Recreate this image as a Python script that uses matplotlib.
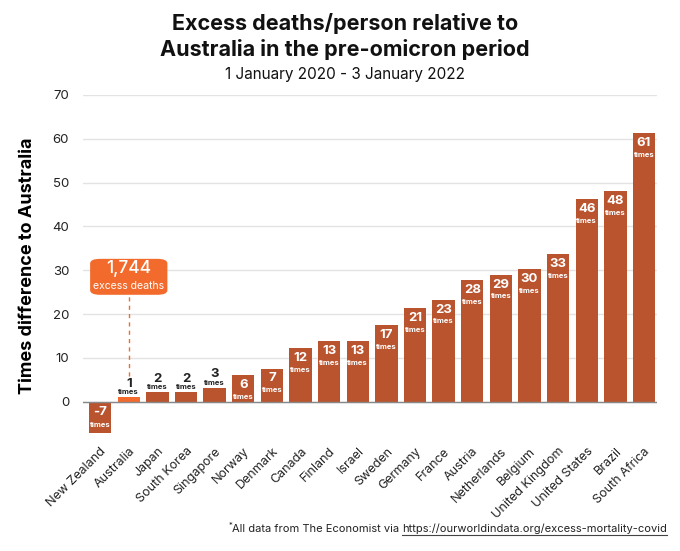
import matplotlib.pyplot as plt
from matplotlib.patches import FancyBboxPatch
import numpy as np

countries = ['New Zealand', 'Australia', 'Japan', 'South Korea', 'Singapore', 'Norway',
             'Denmark', 'Canada', 'Finland', 'Israel', 'Sweden', 'Germany', 'France',
             'Austria', 'Netherlands', 'Belgium', 'United Kingdom', 'United States',
             'Brazil', 'South Africa']
ratio = [-7.1, 1.1, 2.2, 2.2, 3.2, 6.2, 7.6, 12.3, 13.9, 13.9, 17.6, 21.3, 23.3,
         27.8, 29.0, 30.2, 33.6, 46.2, 48.1, 61.3]
labels = ['-7', '1', '2', '2', '3', '6', '7', '12', '13', '13', '17', '21', '23',
          '28', '29', '30', '33', '46', '48', '61']
aus_deaths = '1,744'

plt.rcParams['font.family'] = ['Inter', 'DejaVu Sans']

BAR = '#b9542f'
ORANGE = '#f26b2c'

fig = plt.figure(figsize=(6.8, 5.51), dpi=100)
ax = fig.add_axes([0.122, 0.207, 0.844, 0.621])

x = np.arange(len(countries))
colors = [ORANGE if c == 'Australia' else BAR for c in countries]
ax.bar(x, ratio, width=0.78, color=colors, zorder=3)

ax.set_ylim(-8, 70)
ax.set_xlim(-0.6, len(countries) - 0.55)
ax.set_yticks(range(0, 71, 10))
ax.yaxis.grid(True, color='#e3e3e3', linewidth=1, zorder=0)
ax.axhline(0, color='#888888', linewidth=1, zorder=4)
for s in ax.spines.values():
    s.set_visible(False)
ax.tick_params(axis='both', length=0, labelsize=9.5, colors='#222222')
ax.tick_params(axis='y', pad=10)
ax.set_xticks(x)
ax.set_xticklabels(countries, rotation=45, ha='right', va='top',
                   rotation_mode='anchor', fontsize=9)
ax.tick_params(axis='x', pad=6)
ax.set_ylabel('Times difference to Australia', fontsize=13, fontweight='bold',
              labelpad=12)

# value labels
for xi, v, lab in zip(x, ratio, labels):
    if v < 0:
        ax.text(xi, -1.0, lab, ha='center', va='top', color='white',
                fontsize=9.5, fontweight='bold', zorder=5)
        ax.text(xi, -4.6, 'times', ha='center', va='top', color='white',
                fontsize=5.5, fontweight='bold', zorder=5)
    elif v < 5:
        ax.text(xi, v + 1.7, lab, ha='center', va='bottom', color='#222222',
                fontsize=9.5, fontweight='bold', zorder=5)
        ax.text(xi, v + 0.5, 'times', ha='center', va='bottom', color='#222222',
                fontsize=5.5, fontweight='bold', zorder=5)
    else:
        ax.text(xi, v - 0.9, lab, ha='center', va='top', color='white',
                fontsize=9.5, fontweight='bold', zorder=5)
        ax.text(xi, v - 4.3, 'times', ha='center', va='top', color='white',
                fontsize=5.5, fontweight='bold', zorder=5)

# callout for Australia
ax.plot([1, 1], [6.0, 24.5], color=ORANGE, linestyle=(0, (3, 3)), linewidth=1,
        zorder=4)
box = FancyBboxPatch((-0.35, 24.4), 2.7, 8.2,
                     boxstyle='round,pad=0,rounding_size=0.35',
                     facecolor=ORANGE, edgecolor='none', zorder=6,
                     mutation_aspect=3.0)
ax.add_patch(box)
ax.text(1, 30.4, aus_deaths, ha='center', va='center', color='white',
        fontsize=12.5, fontweight='medium', zorder=7)
ax.text(1, 26.5, 'excess deaths', ha='center', va='center', color='white',
        fontsize=7.5, zorder=7)

# titles
fig.text(0.507, 1 - 24 / 551, 'Excess deaths/person relative to', ha='center',
         va='center', fontsize=15.5, fontweight='bold', color='#111111')
fig.text(0.507, 1 - 49 / 551, 'Australia in the pre-omicron period', ha='center',
         va='center', fontsize=15.5, fontweight='bold', color='#111111')
fig.text(0.507, 1 - 74 / 551, '1 January 2020 - 3 January 2022', ha='center',
         va='center', fontsize=11, color='#111111')

# footnote
url = 'https://ourworldindata.org/excess-mortality-covid'
t_url = fig.text(0.981, 0.035, url, ha='right', va='baseline', fontsize=8,
                 color='#222222')
fig.canvas.draw()
r = fig.canvas.get_renderer()
bb = t_url.get_window_extent(r).transformed(fig.transFigure.inverted())
t_pre = fig.text(bb.x0 - 0.004, 0.035, 'All data from The Economist via', ha='right',
                 va='baseline', fontsize=8, color='#222222')
bb2 = t_pre.get_window_extent(r).transformed(fig.transFigure.inverted())
fig.text(bb2.x0, 0.045, '*', ha='right', va='baseline', fontsize=5.5, color='#222222')
fig.add_artist(plt.Line2D([bb.x0, bb.x1], [0.029, 0.029], color='#444444',
                          linewidth=0.8, transform=fig.transFigure))

fig.savefig('out.png', dpi=100, facecolor='white')
